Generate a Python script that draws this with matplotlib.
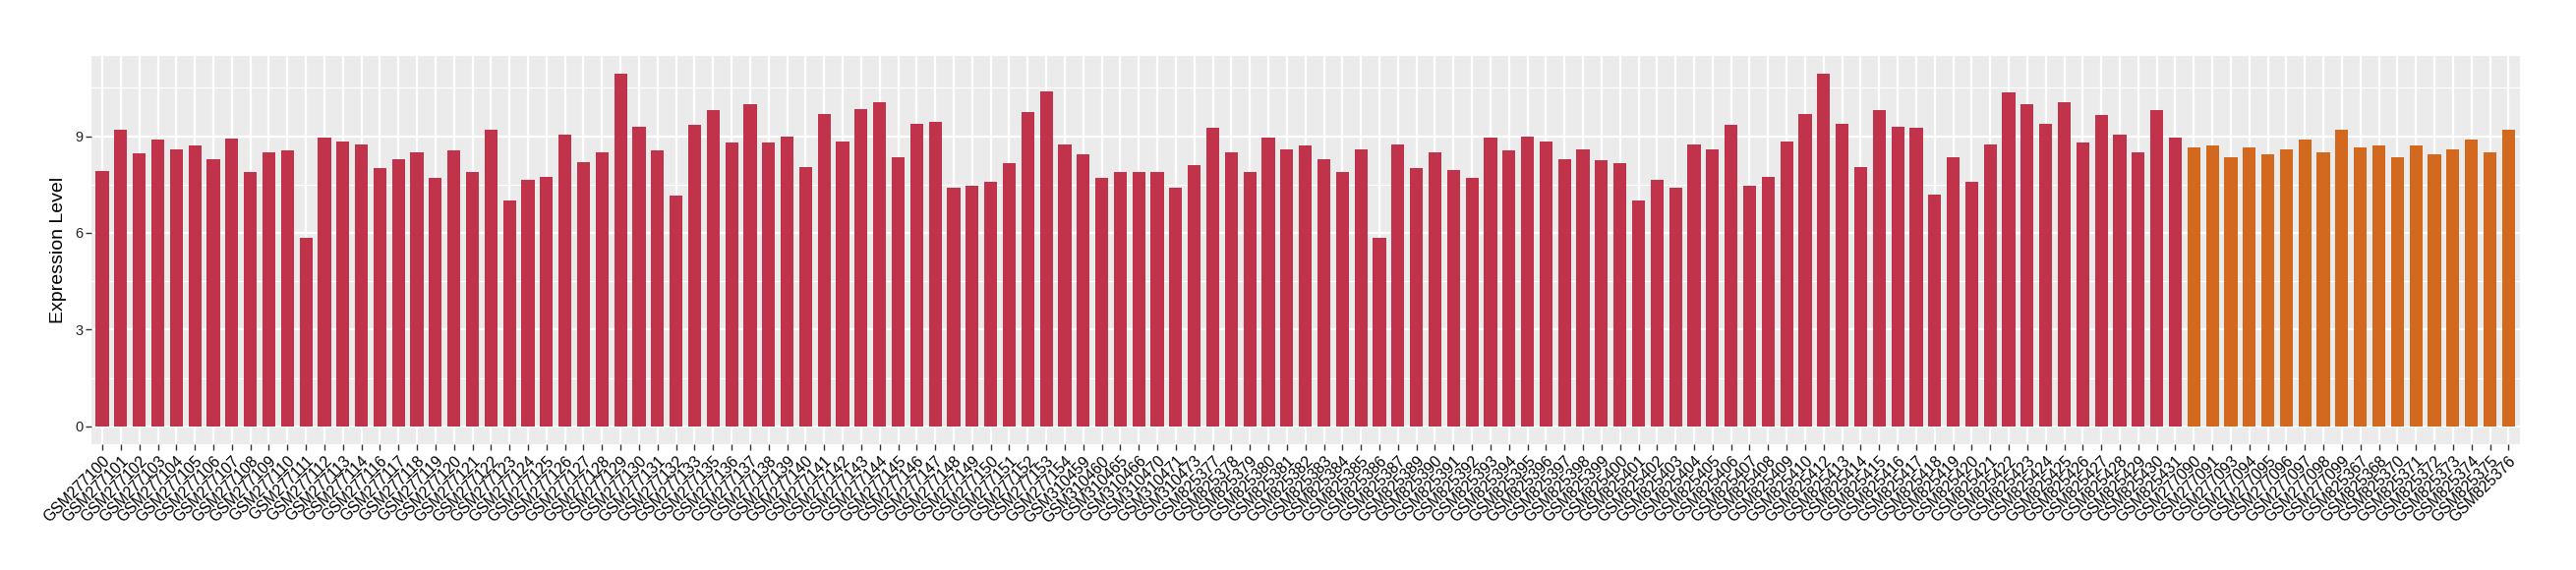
import matplotlib
matplotlib.use("Agg")
import matplotlib.pyplot as plt
from matplotlib.ticker import MultipleLocator

plt.rcParams['font.family'] = ['Liberation Sans', 'DejaVu Sans']

red_samples = (
    [f"GSM277{n}" for n in list(range(100, 115)) + list(range(116, 134)) + list(range(135, 155))]
    + ["GSM310459", "GSM310460", "GSM310465", "GSM310466", "GSM310470", "GSM310471", "GSM310473"]
    + [f"GSM825{n}" for n in list(range(377, 388)) + list(range(389, 411)) + list(range(412, 432))]
)
orange_samples = (
    ["GSM277090", "GSM277091", "GSM277093", "GSM277094", "GSM277095", "GSM277096",
     "GSM277097", "GSM277098", "GSM277099"]
    + ["GSM825367", "GSM825368", "GSM825370", "GSM825371", "GSM825372", "GSM825373",
       "GSM825374", "GSM825375", "GSM825376"]
)

red_values = [
    7.93, 9.20, 8.48, 8.90, 8.60, 8.70, 8.29, 8.93, 7.90, 8.50,
    8.55, 5.85, 8.95, 8.85, 8.75, 8.00, 8.30, 8.50, 7.70, 8.55,
    7.90, 9.20, 7.00, 7.65, 7.75, 9.05, 8.20, 8.50, 10.95, 9.30,
    8.55, 7.15, 9.35, 9.80, 8.80, 10.00, 8.80, 9.00, 8.05, 9.70,
    8.85, 9.85, 10.05, 8.35, 9.40, 9.45, 7.40, 7.45, 7.60, 8.15,
    9.75, 10.40, 8.75, 8.45, 7.70, 7.90, 7.90, 7.90, 7.40, 8.10,
    9.25, 8.50, 7.90, 8.95, 8.60, 8.70, 8.30, 7.90, 8.60, 5.85,
    8.75, 8.00, 8.50, 7.95, 7.70, 8.95, 8.55, 9.00, 8.85, 8.30,
    8.60, 8.25, 8.15, 7.00, 7.65, 7.40, 8.75, 8.60, 9.35, 7.45,
    7.75, 8.85, 9.70, 10.95, 9.40, 8.05, 9.80, 9.30, 9.25, 7.20,
    8.35, 7.60, 8.75, 10.35, 10.00, 9.40, 10.05, 8.80, 9.65, 9.05,
    8.50, 9.80, 8.95,
]
orange_values = [
    8.65, 8.70, 8.35, 8.65, 8.45, 8.60, 8.90, 8.50, 9.20,
    8.65, 8.70, 8.35, 8.70, 8.45, 8.60, 8.90, 8.50, 9.20,
]

red_color = "#C1334A"
orange_color = "#D2691F"

samples = red_samples + orange_samples
values = red_values + orange_values
colors = [red_color] * len(red_values) + [orange_color] * len(orange_values)

fig = plt.figure(figsize=(26.2, 5.8), dpi=100)
ax = fig.add_axes([0.0354, 0.2212, 0.9427, 0.681])

x = list(range(1, len(samples) + 1))
ax.bar(x, values, width=0.7, color=colors, zorder=3)

ax.set_facecolor("#EBEBEB")
ymax = max(values)
ax.set_ylim(-0.05 * ymax, 1.05 * ymax)
ax.set_xlim(0.4, len(samples) + 0.6)
ax.yaxis.set_major_locator(MultipleLocator(3))
ax.yaxis.set_minor_locator(MultipleLocator(1.5))
ax.grid(which="major", axis="both", color="white", linewidth=1.6, zorder=0)
ax.grid(which="minor", axis="y", color="white", linewidth=0.8, zorder=0)
ax.set_axisbelow(True)
for s in ax.spines.values():
    s.set_visible(False)

ax.set_xticks(x)
ax.set_xticklabels(samples, rotation=45, ha="right", va="top",
                   rotation_mode="anchor", fontsize=11.3, color="black")
ax.tick_params(axis="x", which="major", length=4, width=1, color="#333333", pad=3)
ax.tick_params(axis="y", which="major", length=4, width=1, color="#333333",
               labelsize=10.5, labelcolor="#222222", pad=2)
ax.tick_params(axis="y", which="minor", length=0)
ax.set_ylabel("Expression Level", fontsize=14, labelpad=6)

fig.savefig("out.png", dpi=100, facecolor="white")
